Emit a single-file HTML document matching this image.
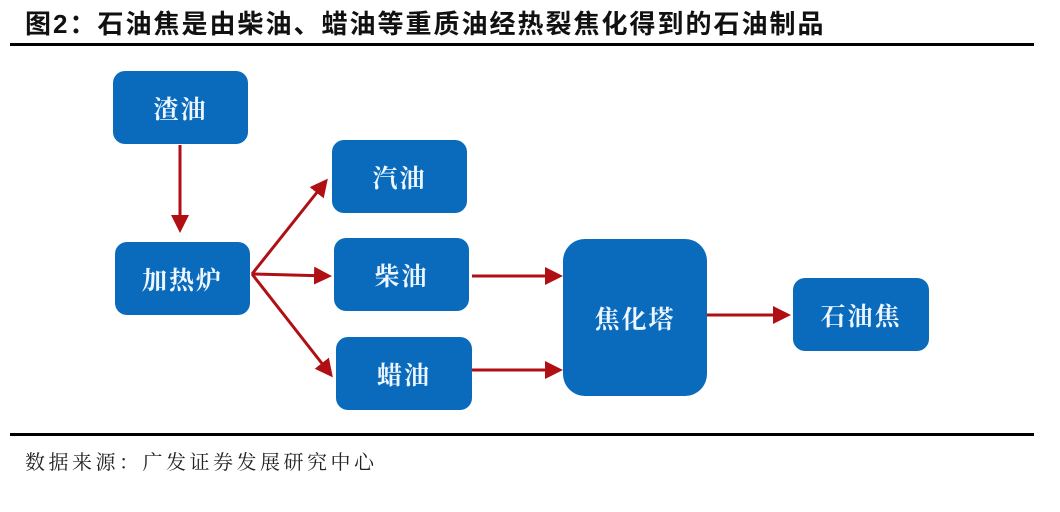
<!DOCTYPE html>
<html><head><meta charset="utf-8"><style>
body{margin:0;width:1060px;height:512px;background:#fff;position:relative;overflow:hidden;font-family:"Liberation Sans","Noto Sans CJK SC",sans-serif}
.t{position:absolute;left:25px;top:4px;font-size:26px;font-weight:bold;color:#111;white-space:nowrap;letter-spacing:2px}
.l{position:absolute;left:10px;width:1024px;height:3px;background:#000}
.b{position:absolute;background:#0a6bbd;border-radius:12px;color:#eef6ff;font-family:"Liberation Serif","Noto Serif CJK SC",serif;font-weight:bold;font-size:25px;display:flex;align-items:center;justify-content:center;letter-spacing:2px}
.s{position:absolute;left:25px;top:446px;font-size:20px;color:#222;font-family:"Liberation Serif","Noto Serif CJK SC",serif;letter-spacing:3.5px;white-space:nowrap}
</style></head><body>
<div class="t">图2：石油焦是由柴油、蜡油等重质油经热裂焦化得到的石油制品</div>
<div class="l" style="top:43px"></div>
<div class="l" style="top:433px"></div>
<div class="s">数据来源：广发证券发展研究中心</div>
<svg width="1060" height="512" style="position:absolute;left:0;top:0">
<defs><marker id="a" markerWidth="6" markerHeight="6" refX="5" refY="3" orient="auto" markerUnits="strokeWidth"><path d="M0,0L6,3L0,6z" fill="#b00f14"/></marker></defs>
<g stroke="#b00f14" stroke-width="3" fill="none" marker-end="url(#a)">
<line x1="180" y1="145" x2="180" y2="230"/>
<line x1="252" y1="274" x2="326" y2="181"/>
<line x1="252" y1="274" x2="329" y2="276"/>
<line x1="252" y1="274" x2="331" y2="375"/>
<line x1="472" y1="276" x2="560" y2="276"/>
<line x1="472" y1="370" x2="560" y2="370"/>
<line x1="707" y1="315" x2="788" y2="315"/>
</g></svg>
<div class="b" style="left:113px;top:71px;width:135px;height:73px">渣油</div>
<div class="b" style="left:115px;top:242px;width:135px;height:73px">加热炉</div>
<div class="b" style="left:332px;top:140px;width:135px;height:73px">汽油</div>
<div class="b" style="left:334px;top:238px;width:135px;height:73px">柴油</div>
<div class="b" style="left:336px;top:337px;width:136px;height:73px">蜡油</div>
<div class="b" style="left:563px;top:239px;width:144px;height:157px;border-radius:22px">焦化塔</div>
<div class="b" style="left:793px;top:278px;width:136px;height:73px">石油焦</div>
</body></html>
